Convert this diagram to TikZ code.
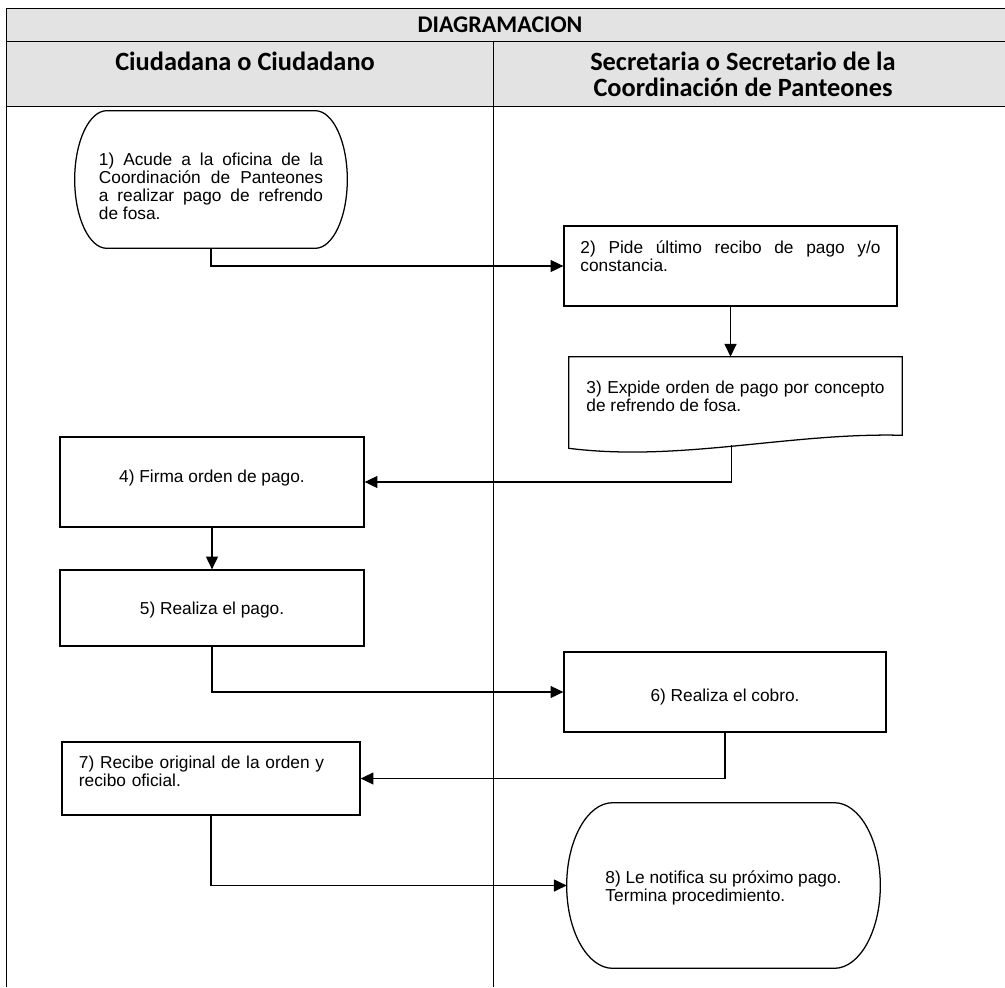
\documentclass[tikz,border=0pt]{standalone}
\usepackage{fontspec}
\setmainfont{Liberation Sans}
\newfontfamily\headfont{Carlito}
\usetikzlibrary{arrows.meta,calc}
\definecolor{headgray}{RGB}{227,227,227}
\tolerance=9999
\hyphenpenalty=10000

% outline of a start/end node: node name, corner x radius (px)
\newcommand{\termoutline}[2]{%
  \draw[boxline] (#1.west)
    .. controls ($(#1.west)!0.55!(#1.north west)$) and ($(#1.north west)+(0.45*#2,0)$) .. ($(#1.north west)+(#2,0)$)
    -- ($(#1.north east)+(-#2,0)$)
    .. controls ($(#1.north east)+(-0.45*#2,0)$) and ($(#1.east)!0.55!(#1.north east)$) .. (#1.east)
    .. controls ($(#1.east)!0.55!(#1.south east)$) and ($(#1.south east)+(-0.45*#2,0)$) .. ($(#1.south east)+(-#2,0)$)
    -- ($(#1.south west)+(#2,0)$)
    .. controls ($(#1.south west)+(0.45*#2,0)$) and ($(#1.west)!0.55!(#1.south west)$) .. (#1.west) -- cycle;}

\begin{document}
\begin{tikzpicture}[
    x=0.025cm, y=0.025cm,
    tline/.style={line width=0.7pt},
    boxline/.style={line width=0.9pt},
    head/.style={font=\headfont\bfseries\fontsize{18.75}{18.4}\selectfont, align=center, inner sep=0pt},
    txt/.style={font=\fontsize{12.3}{12.8}\selectfont},
    box/.style={rectangle, draw, boxline, inner sep=0pt, txt},
    terminal/.style={rectangle, inner sep=0pt, txt},
    flow/.style={-{Triangle[length=3.2mm,width=3mm]}, line width=0.9pt},
]
\useasboundingbox (0,0) rectangle (1005,-987);

% ====== Table ======
\fill[headgray] (6,-8) rectangle (1005,-106);
\draw[tline] (6,-8) -- (1005,-8);
\draw[tline] (6,-41) -- (1005,-41);
\draw[tline] (6,-106) -- (1005,-106);
\draw[tline] (6,-8) -- (6,-987);
\draw[tline] (493,-41) -- (493,-987);

\node[head, font=\headfont\bfseries\fontsize{17}{20}\selectfont] (title) at (500,-24.5) {DIAGRAMACION};
\node[head, anchor=north] (hCiu) at (245,-52) {Ciudadana o Ciudadano};
\node[head, anchor=north] (hSec) at (743,-52) {Secretaria o Secretario de la\\Coordinación de Panteones};

% ====== Steps ======
\node[terminal, minimum width=6.8cm, minimum height=3.425cm, text width=5.6cm, align=justify,
      text height=17.85pt, text depth=38.4pt] (n1) at (211,-179.5)
  {1) Acude a la oficina de la Coordinación de Panteones\linebreak a realizar pago de refrendo\linebreak de fosa.};
\termoutline{n1}{32}

\node[box, minimum width=8.325cm, minimum height=2cm, text width=7.5cm, align=justify,
      text height=9pt, text depth=27.4pt] (n2) at (730.5,-266)
  {2) Pide último recibo de pago y/o constancia.};

\node[terminal, minimum width=8.325cm, minimum height=2.275cm, text width=7.45cm, align=justify,
      text height=9pt, text depth=22.5pt] (n3) at (735.5,-402.5)
  {3) Expide orden de pago por concepto de refrendo de fosa.};
\draw[boxline] (n3.south west) -- (n3.north west) -- (n3.north east) -- ($(n3.south east)+(0,13)$)
  .. controls ($(n3.south east)+(-112,16)$) and ($(n3.south west)+(111,-14)$) .. (n3.south west) -- cycle;
\coordinate (n3out) at ($(n3.south)+(-4,3)$);

\node[box, minimum width=7.6cm, minimum height=2.25cm, text height=9pt, text depth=9pt] (n4) at (212,-482) {4) Firma orden de pago.};
\node[box, minimum width=7.6cm, minimum height=1.9cm, text height=12pt, text depth=2.1pt] (n5) at (212,-608) {5) Realiza el pago.};
\node[box, minimum width=8.05cm, minimum height=2cm, text height=14pt, text depth=1.2pt] (n6) at (725,-692) {6) Realiza el cobro.};

\node[box, minimum width=7.45cm, minimum height=1.825cm, text width=6.6cm, align=left,
      text height=9pt, text depth=23.9pt] (n7) at (211,-778.5)
  {7) Recibe original de la orden y recibo oficial.};

\node[terminal, minimum width=7.825cm, minimum height=4.125cm, text width=5.9cm, align=justify,
      text height=9pt, text depth=12.5pt] (n8) at (723.5,-885.5)
  {8) Le notifica su próximo pago. Termina procedimiento.};
\termoutline{n8}{46}

% ====== Connectors ======
\draw[flow] (n1.south) |- (n2.west);
\draw[flow] (n2.south) -- (n2.south |- n3.north);
\draw[flow] (n3out) |- (n4.east);
\draw[flow] (n4.south) -- (n5.north);
\draw[flow] (n5.south) |- (n6.west);
\draw[flow] (n6.south) |- (n7.east);
\draw[flow] (n7.south) |- (n8.west);

\end{tikzpicture}
\end{document}
